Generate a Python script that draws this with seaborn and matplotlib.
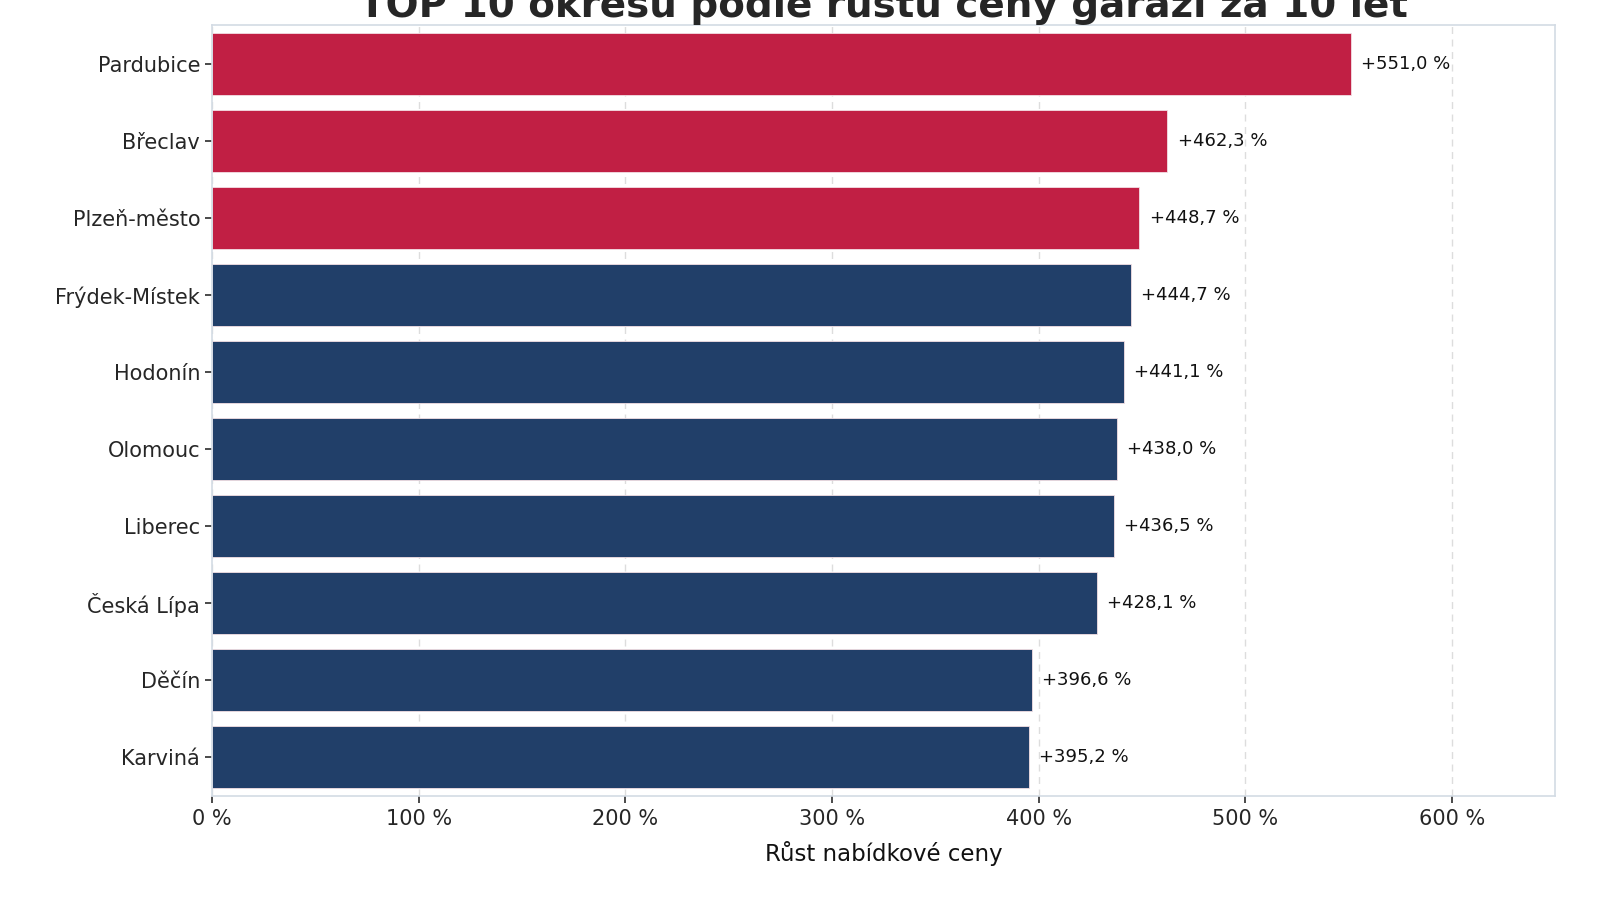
import pandas as pd
import matplotlib.pyplot as plt
import seaborn as sns
from matplotlib.ticker import FuncFormatter

# TOP 10 okresů - růst nabídkové ceny garáží za 10 let (%)
okresy = ['Pardubice', 'Břeclav', 'Plzeň-město', 'Frýdek-Místek', 'Hodonín',
          'Olomouc', 'Liberec', 'Česká Lípa', 'Děčín', 'Karviná']
rust = [551.0, 462.3, 448.7, 444.7, 441.1, 438.0, 436.5, 428.1, 396.6, 395.2]
skupina = ['top3'] * 3 + ['ostatni'] * 7

barvy = {'top3': '#C11F44', 'ostatni': '#213F69'}

df = pd.DataFrame({'okres': okresy, 'rust': rust, 'skupina': skupina})

sns.set_theme(style='ticks')
plt.rcParams['font.family'] = ['DejaVu Sans']

fig, ax = plt.subplots(figsize=(16, 9), dpi=100)
fig.subplots_adjust(left=0.1325, right=0.972, top=0.972, bottom=0.116)

sns.barplot(data=df, x='rust', y='okres', hue='skupina', palette=barvy,
            orient='h', width=0.8, legend=False, ax=ax,
            edgecolor='#f3dfe4', linewidth=0.6, saturation=1)

ax.set_xlim(0, 650)
ax.set_xticks(range(0, 700, 100))
ax.xaxis.set_major_formatter(FuncFormatter(lambda v, p: f'{v:.0f} %'))
ax.grid(axis='x', linestyle=(0, (5, 4)), color='#dddddd', linewidth=1)
ax.set_axisbelow(True)

# popisky hodnot za koncem sloupců
for i, v in enumerate(rust):
    ax.text(v + 5, i, f'+{v:.1f} %'.replace('.', ','), va='center', ha='left',
            fontsize=13, color='#111111')

for s in ax.spines.values():
    s.set_color('#d3dbe4')
    s.set_linewidth(1.2)

ax.tick_params(axis='both', labelsize=15, colors='#333333', length=5)
ax.tick_params(axis='both', labelcolor='#262626')
ax.tick_params(axis='x', pad=5)
ax.set_ylabel('')
ax.set_xlabel('Růst nabídkové ceny', fontsize=16.5, color='#111111', labelpad=8)
ax.set_title('TOP 10 okresů podle růstu ceny garáží za 10 let', fontsize=28,
             fontweight='bold', pad=6)

fig.savefig('out.png', dpi=100)
